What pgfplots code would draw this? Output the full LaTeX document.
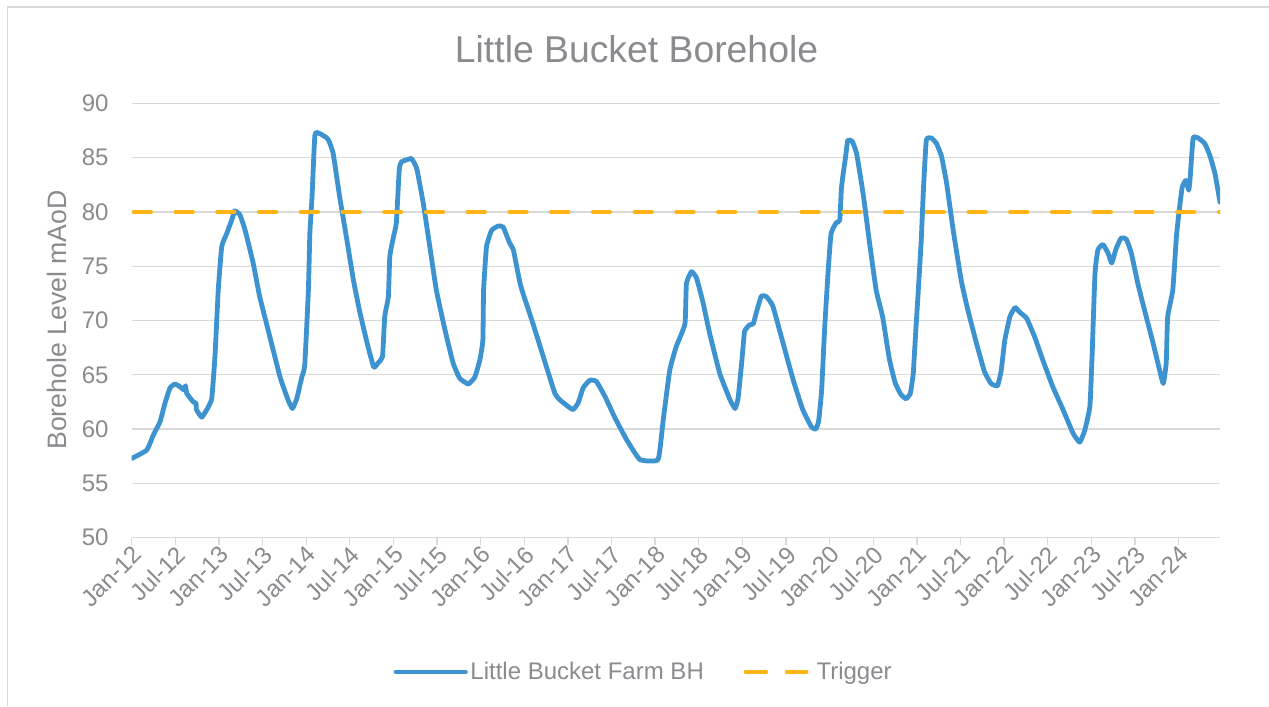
\documentclass[border=0pt]{standalone}
\usepackage{fontspec}
\setmainfont{Liberation Sans}
\usepackage{pgfplots}
\pgfplotsset{compat=1.18}
\definecolor{lbblue}{RGB}{61,146,208}
\definecolor{lborange}{RGB}{253,181,21}
\definecolor{gridgray}{RGB}{217,217,217}
\definecolor{textgray}{RGB}{137,139,143}
\begin{document}
\begin{tikzpicture}
\useasboundingbox (0,0) rectangle (951.75pt,529.5pt);
\fill[white] (0,0) rectangle (951.75pt,529.5pt);
\draw[gridgray, line width=1pt] (5.4pt,0) -- (5.4pt,524.2pt) -- (951.75pt,524.2pt);
\node[textgray, font=\fontsize{28}{34}\selectfont] at (477.4pt,492.75pt) {Little Bucket Borehole};
\node[textgray, rotate=90, font=\fontsize{20}{24}\selectfont] at (42.75pt,289.5pt) {Borehole Level mAoD};
\begin{axis}[
  at={(98.8pt,126.2pt)}, anchor=south west, scale only axis,
  width=816.2pt, height=325.8pt,
  xmin=0, xmax=149.7, ymin=50, ymax=90,
  ytick={50,55,...,90},
  xtick={0,6,...,144},
  xticklabels={Jan-12,Jul-12,Jan-13,Jul-13,Jan-14,Jul-14,Jan-15,Jul-15,Jan-16,Jul-16,Jan-17,Jul-17,Jan-18,Jul-18,Jan-19,Jul-19,Jan-20,Jul-20,Jan-21,Jul-21,Jan-22,Jul-22,Jan-23,Jul-23,Jan-24},
  axis line style={draw=none},
  ymajorgrids, grid style={gridgray, line width=1pt},
  xtick pos=left, ytick pos=left,
  major tick length=5.25pt, tick align=outside,
  xtick style={gridgray, line width=1pt}, ytick style={draw=none},
  tick label style={textgray, font=\fontsize{18}{22}\selectfont},
  /pgf/number format/assume math mode=true,
  yticklabel style={anchor=east, inner sep=0pt, xshift=-12pt},
  xticklabel style={rotate=45, anchor=east, inner sep=1pt, yshift=-6pt, xshift=1pt},
  legend style={at={(0.4707,-0.309)}, anchor=center, draw=none, fill=none,
    legend columns=2, font=\fontsize{18}{22}\selectfont, text=textgray,
    /tikz/every even column/.append style={column sep=26pt}},
  legend cell align=left,
]
\addplot[lbblue, line width=3.6pt, line join=round, line cap=round, smooth, tension=0.25,
  legend image code/.code={\draw[lbblue, line width=3.6pt, line cap=round] (0pt,0pt) -- (52pt,0pt);}]
coordinates {
(0,57.3) (2.06,58.07) (2.97,59.46) (3.89,60.68) (4.58,62.4) (5.27,63.8) (5.95,64.15)
(6.64,63.9) (7.2,63.6) (7.4,64.0) (7.56,63.3) (8.47,62.5) (8.84,62.4) (8.9,61.8)
(9.62,61.1) (10.3,61.76) (11.0,62.8) (11.45,66.7) (11.9,72.8) (12.38,76.8) (13.06,78.0)
(13.75,79.25) (14.2,80.1) (14.9,79.7) (15.6,78.3) (16.7,75.3) (17.6,72.2) (19.0,68.5)
(20.4,64.8) (21.5,62.7) (22.1,61.9) (22.7,62.8) (23.4,64.8) (23.8,65.9) (24.3,72.8)
(24.5,78.0) (24.8,81.4) (25.2,87.1) (25.9,87.2) (27.0,86.7) (27.7,85.4) (28.6,81.4)
(29.6,77.4) (30.5,73.7) (31.4,70.7) (32.5,67.6) (33.3,65.7) (33.9,66.1) (34.5,66.7)
(34.8,70.35) (35.3,72.2) (35.5,75.9) (36.0,77.7) (36.4,79.0) (36.8,83.9) (37.1,84.6)
(37.8,84.8) (38.5,84.9) (39.2,84.0) (40.1,80.8) (41.0,76.8) (41.9,72.8) (43.1,69.1)
(44.2,66.1) (45.1,64.7) (46.3,64.15) (47.2,64.8) (47.9,66.4) (48.3,68.2) (48.4,72.8)
(48.8,76.8) (49.5,78.3) (50.4,78.7) (51.1,78.6) (52.0,77.1) (52.5,76.5) (53.5,73.2)
(55.2,69.7) (56.6,66.7) (58.2,63.3) (58.9,62.7) (59.8,62.2) (60.7,61.8) (61.4,62.4)
(62.1,63.8) (63.0,64.5) (63.9,64.4) (65.1,63.0) (66.5,61.0) (68.1,59.0) (69.9,57.2)
(72.4,57.2) (73.1,60.8) (74.0,65.4) (74.9,67.6) (76.1,69.7) (76.3,73.4) (77.0,74.5)
(77.7,73.9) (78.6,71.6) (79.5,68.8) (80.9,65.1) (82.3,62.7) (83.0,61.9) (83.4,62.8)
(83.9,66.1) (84.3,69.0) (85.0,69.6) (85.5,69.7) (85.9,70.7) (86.6,72.25) (87.3,72.2)
(88.2,71.3) (89.6,67.9) (91.0,64.5) (92.3,61.8) (93.5,60.2) (94.1,60.0) (94.5,60.8)
(94.9,63.6) (95.3,69.1) (95.8,74.6) (96.2,78.0) (96.9,79.0) (97.4,79.25) (97.6,82.0)
(97.8,83.2) (98.2,85.1) (98.5,86.6) (99.1,86.5) (99.7,85.4) (100.6,81.7) (101.5,77.1)
(102.4,72.8) (103.3,70.3) (104.2,66.5) (105.0,64.3) (105.8,63.2) (106.5,62.8) (107.1,63.3)
(107.5,65.1) (107.8,68.5) (108.2,72.8) (108.6,77.4) (108.9,82.0) (109.3,86.6) (110.0,86.8)
(110.7,86.3) (111.4,85.1) (112.1,82.6) (113.0,78.3) (114.1,73.7) (115.0,71.0) (116.2,67.9)
(117.3,65.3) (118.2,64.2) (119.1,64.0) (119.6,65.4) (120.1,68.2) (120.8,70.35) (121.5,71.2)
(122.1,70.8) (123.1,70.2) (124.2,68.5) (125.3,66.4) (126.7,63.9) (128.1,61.8) (129.5,59.6)
(130.4,58.8) (131.1,59.9) (131.8,62.1) (132.1,66.7) (132.5,74.3) (132.9,76.5) (133.6,77.0)
(134.3,76.2) (134.8,75.3) (135.4,76.6) (136.1,77.6) (136.8,77.5) (137.5,76.2) (138.4,73.4)
(139.3,71.0) (140.5,67.9) (141.4,65.4) (141.9,64.2) (142.3,66.1) (142.5,70.35) (143.2,72.8)
(143.7,77.7) (144.1,80.2) (144.5,82.3) (145.0,82.9) (145.4,82.0) (145.6,83.2) (146.0,86.8)
(146.7,86.8) (147.6,86.3) (148.3,85.2) (149.0,83.55) (149.7,80.9)
};
\addlegendentry{Little Bucket Farm BH}
\addplot[lborange, line width=3.5pt, line cap=round, dash pattern=on 12.5pt off 18.8pt, dash phase=-1.75pt,
  legend image code/.code={\draw[lborange, line width=3.5pt, line cap=round, dash pattern=on 15pt off 16pt] (0pt,0pt) -- (47pt,0pt);}]
coordinates {(0,80) (149.7,80)};
\addlegendentry{\hspace{4pt}Trigger}
\end{axis}
\end{tikzpicture}
\end{document}
